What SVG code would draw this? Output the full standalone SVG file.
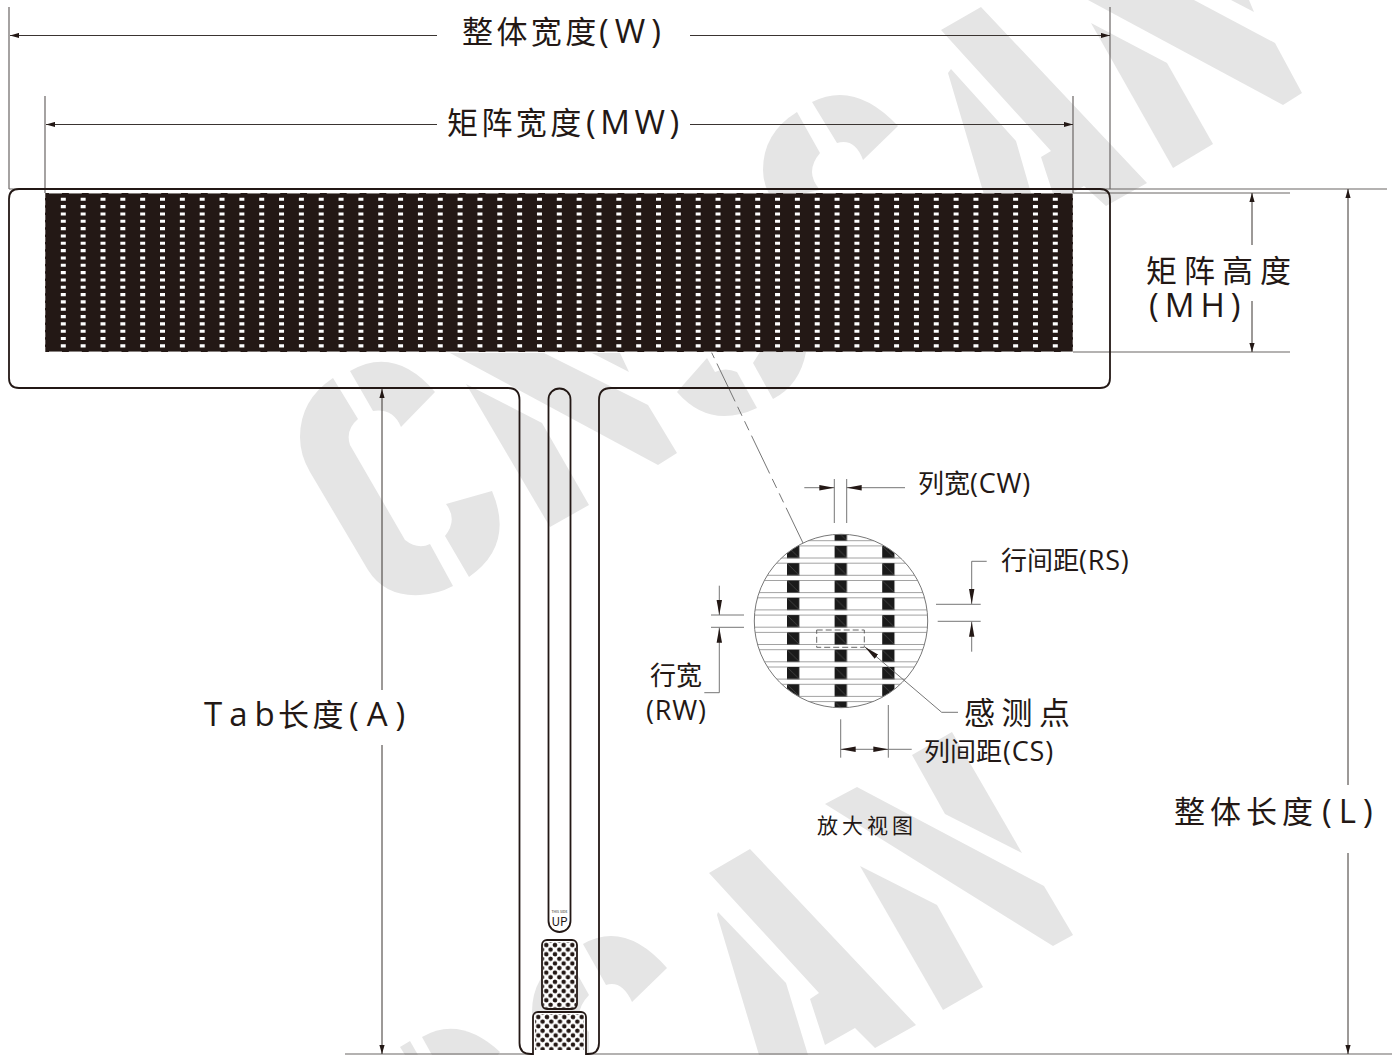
<svg xmlns="http://www.w3.org/2000/svg" width="1392" height="1055" viewBox="0 0 1392 1055">
<style>
text{font-family:"Noto Sans CJK SC","Noto Sans",sans-serif;fill:#231815}
.big{font-size:31px}
.bl{font-family:"Open Sans","Noto Sans",sans-serif;font-size:33px}
.mid{font-size:26px}
.ml{font-family:"Open Sans","Noto Sans",sans-serif;font-size:27px;letter-spacing:.8px}
.wm{fill:#e5e5e5;stroke:none}
.out{fill:none;stroke:#231815;stroke-width:1.8}
.dim{fill:none;stroke:#3a3431;stroke-width:1}
.ext{fill:none;stroke:#6b6665;stroke-width:1.2}
.fine{fill:none;stroke:#666;stroke-width:.9}
.row{fill:none;stroke:#8a8a8a;stroke-width:.8}
</style>
<defs>
<marker id="a" markerUnits="userSpaceOnUse" markerWidth="10" markerHeight="6" refX="9" refY="3" orient="auto-start-reverse"><path d="M0 .4L9 3L0 5.600z" fill="#231815"/></marker>
<marker id="b" markerUnits="userSpaceOnUse" markerWidth="16" markerHeight="7" refX="15" refY="3.500" orient="auto-start-reverse"><path d="M0 .8L15 3.500L0 6.200z" fill="#231815"/></marker>
<pattern id="dots" patternUnits="userSpaceOnUse" x="546.300" y="945" width="8.670" height="9.200"><circle cx="0" cy="0" r="2.300" fill="#231815"/><circle cx="8.670" cy="0" r="2.300" fill="#231815"/><circle cx="0" cy="9.200" r="2.300" fill="#231815"/><circle cx="8.670" cy="9.200" r="2.300" fill="#231815"/><circle cx="4.330" cy="4.600" r="2.300" fill="#231815"/></pattern>
<pattern id="dots2" patternUnits="userSpaceOnUse" x="538.300" y="1017" width="8.670" height="9.200"><circle cx="0" cy="0" r="2.300" fill="#231815"/><circle cx="8.670" cy="0" r="2.300" fill="#231815"/><circle cx="0" cy="9.200" r="2.300" fill="#231815"/><circle cx="8.670" cy="9.200" r="2.300" fill="#231815"/><circle cx="4.330" cy="4.600" r="2.300" fill="#231815"/></pattern>
<pattern id="blk" patternUnits="userSpaceOnUse" x="787" y="528.600" width="47.600" height="17.300"><rect width="12.300" height="12.100" fill="#1a1a1a"/><path d="M0 0L12.300 12.100" stroke="#555" stroke-width=".6"/></pattern>
<clipPath id="cc"><circle cx="841" cy="621" r="86.700"/></clipPath>
<clipPath id="pad2clip"><rect x="531" y="1010" width="57" height="45"/></clipPath>
</defs>

<g id="watermark">
<path class="wm" d="M333 378Q300 400 300 437Q300 455 310 472L368 570Q385 597 420 595Q438 594 453 586L430 544Q418 550 405 540L350 445Q345 430 358 419z"/>
<path class="wm" d="M350 371Q395 345 435 392L401 427Q393 408 373 411z"/>
<path class="wm" d="M446 504L492 491Q515 545 469 577L445 536Q458 520 446 504z"/>
<path class="wm" d="M466 384L542 423L589 505L550 527z"/>
<path class="wm" d="M450 353L544 353L648 405L677 453L658 465z"/>
<path class="wm" d="M592 353L629 372L620 353z"/>
<path class="wm" d="M707 358L677 392Q710 430 757 408L737 372Q725 367 715 372z"/>
<path class="wm" d="M753 363L773 399Q800 385 806 352L760 352z"/>
<path class="wm" d="M797 112Q763 133 763 170Q763 186 773 200L820 190Q804 172 820 153z"/>
<path class="wm" d="M812 102Q855 80 898 126L863 160Q855 138 837 143z"/>
<path class="wm" d="M981 7L1147 183L1106 206L1084 186L1056 203L1041 157L1051 151L941 30z"/>
<path class="wm" d="M951 69L1016 141L1033 200L1040 215L990 215L948 73z"/>
<path class="wm" d="M1091 23L1167 63L1213 144L1173 168z"/>
<path class="wm" d="M1088 0L1194 0L1275 43L1302 93L1283 105z"/>
<path class="wm" d="M1231 0L1254 12L1249 0z"/>
<path class="wm" d="M750 849L709 873L819 993L810 999L825 1045L855 1028L875 1048L916 1025z"/>
<path class="wm" d="M718 912L786 983L808 1055L759 1055L717 915z"/>
<path class="wm" d="M860 866L937 905L983 987L943 1010z"/>
<path class="wm" d="M857 787L1044 886L1073 935L1053 946L825 804z"/>
<path class="wm" d="M952 732L912 755L945 814L1022 853z"/>
<path class="wm" d="M583 944Q625 920 667 968L632 1002Q622 980 606 985z"/>
<path class="wm" d="M566 954Q532 975 532 1012Q532 1028 542 1055L589 1055L589 1032Q570 1015 589 995z"/>
<path class="wm" d="M422 1037Q460 1015 500 1052L498 1055L432 1055z"/>
<path class="wm" d="M400 1047L410 1041L418 1055L405 1055z"/>
</g>

<g id="detail-circle">
<circle cx="841" cy="621" r="86.700" fill="#fff"/>
<g clip-path="url(#cc)">
<path class="row" d="M750 540.700H932M750 545.900H932M750 558H932M750 563.200H932M750 575.300H932M750 580.500H932M750 592.600H932M750 597.800H932M750 609.900H932M750 615.100H932M750 627.200H932M750 632.400H932M750 644.500H932M750 649.700H932M750 661.800H932M750 667H932M750 679.100H932M750 684.300H932M750 696.400H932M750 701.600H932"/>
<rect x="787" y="534" width="108.500" height="174" fill="url(#blk)"/>
</g>
<circle cx="841" cy="621" r="86.700" fill="none" stroke="#777" stroke-width="1"/>
<rect x="816.700" y="630" width="47.600" height="17.300" fill="none" stroke="#555" stroke-width=".9" stroke-dasharray="6 3"/>
</g>

<g id="connectors">
<path class="ext" d="M9 7V189M1110 7V189M45 96V193M1073 96V193"/>
<path class="ext" d="M9 189H1387M1073 193H1290M1073 352H1290M345 1054H1392"/>
<path class="dim" marker-start="url(#a)" d="M10 35.500H437"/>
<path class="dim" marker-end="url(#a)" d="M690 35.500H1110"/>
<path class="dim" marker-start="url(#a)" d="M46 124.500H437"/>
<path class="dim" marker-end="url(#a)" d="M690 124.500H1073"/>
<path class="dim" marker-start="url(#a)" d="M1252 193V245"/>
<path class="dim" marker-end="url(#a)" d="M1252 301V352"/>
<path class="dim" marker-start="url(#a)" d="M1348 189V785"/>
<path class="dim" marker-end="url(#a)" d="M1348 853V1054"/>
<path class="dim" marker-start="url(#a)" d="M382 389V690"/>
<path class="dim" marker-end="url(#a)" d="M382 745V1054"/>
<path class="fine" stroke-dasharray="42 6 10 6 10 6" stroke-dashoffset="68" d="M711.700 352.700L803 543"/>
<path class="fine" d="M834.300 479V523M846.700 479V523M936 604.300H980.700M937.700 621.300H980.700M711 615H744M711 627.300H744M840.700 719.300V757.700M888.300 705V757.700M888.300 749.300H911.700"/>
<path class="fine" marker-end="url(#b)" d="M804.300 487.700H834.300"/>
<path class="fine" marker-end="url(#b)" d="M905 487.700H846.700"/>
<path class="fine" marker-end="url(#b)" d="M986.700 561.300H971.700V604"/>
<path class="fine" marker-end="url(#b)" d="M971.700 651.700V621.700"/>
<path class="fine" marker-end="url(#b)" d="M719.300 585.700V615"/>
<path class="fine" marker-end="url(#b)" d="M704.300 692.700H719.300V627.700"/>
<path class="fine" marker-start="url(#b)" marker-end="url(#b)" d="M840.700 749.300H888.300"/>
<path class="fine" marker-end="url(#b)" d="M958 712.300H941.700L865 647"/>
</g>

<g id="sensor-outline">
<path class="out" d="M519.500 1043V400Q519.500 388 508 388H19Q9 388 9 378V199Q9 189 19 189H1100Q1110 189 1110 199V378Q1110 388 1100 388H611Q599 388 599 400V1043Q599 1054 588 1054H531Q519.500 1054 519.500 1043z"/>
<path class="out" d="M548.500 399.500A11 11 0 0 1 570.500 399.500V921A11 11 0 0 1 548.500 921z"/>
</g>

<g id="matrix">
<rect x="45" y="193" width="1028" height="159" fill="#231815"/>
<path fill="none" stroke="#fff" stroke-width="3.100" stroke-dasharray="5 14.840" d="M60.800 199.300H1060M60.800 206.630H1060M60.800 213.960H1060M60.800 221.290H1060M60.800 228.620H1060M60.800 235.950H1060M60.800 243.280H1060M60.800 250.610H1060M60.800 257.940H1060M60.800 265.270H1060M60.800 272.600H1060M60.800 279.930H1060M60.800 287.260H1060M60.800 294.590H1060M60.800 301.920H1060M60.800 309.250H1060M60.800 316.580H1060M60.800 323.910H1060M60.800 331.240H1060M60.800 338.570H1060M60.800 345.900H1060"/>
<path d="M49 193.500H1073M49 351.500H1073" stroke="#fff" stroke-width="1" stroke-dasharray="13 6.840" opacity=".45" fill="none"/>
<path d="M45.500 193V352M1072.500 193V352" stroke="#fff" stroke-width="1" stroke-dasharray="5 2.330" opacity=".3" fill="none"/>
</g>

<g id="tail-pads">
<rect x="542" y="940" width="35" height="69" rx="5" fill="#fff" stroke="#231815" stroke-width="1.800"/>
<rect x="543" y="942" width="33" height="66" fill="url(#dots)"/>
<g clip-path="url(#pad2clip)"><rect x="533" y="1012" width="53" height="60" rx="5" fill="#fff" stroke="#231815" stroke-width="1.800"/>
<rect x="535" y="1014" width="49" height="36" fill="url(#dots2)"/></g>
<text x="559.500" y="913" text-anchor="middle" style="font-size:3.500px">THIS SIDE</text>
<text x="559.500" y="926" text-anchor="middle" style="font-size:12px">UP</text>
</g>

<g id="labels">
<text class="big" y="43" letter-spacing="3.400"><tspan x="462">整体宽度</tspan><tspan class="bl" x="599" letter-spacing="6">(W)</tspan></text>
<text class="big" y="134" letter-spacing="3.400"><tspan x="447">矩阵宽度</tspan><tspan class="bl" x="586" letter-spacing="4.500">(MW)</tspan></text>
<text class="big" y="282" letter-spacing="7"><tspan x="1146">矩阵高度</tspan></text>
<text class="big bl" y="317" letter-spacing="6"><tspan x="1149">(MH)</tspan></text>
<text class="big" y="726"><tspan class="bl" x="204" letter-spacing="7">Tab</tspan><tspan x="278" letter-spacing="3.400">长度</tspan><tspan class="bl" x="349" letter-spacing="8">(A)</tspan></text>
<text class="big" y="823"><tspan x="1174" letter-spacing="5">整体长度</tspan><tspan class="bl" x="1322" letter-spacing="7">(L)</tspan></text>
<text class="big" x="964" y="724" letter-spacing="6.500">感测点</text>
<text style="font-size:21px;letter-spacing:4px" x="817" y="833">放大视图</text>
<text class="mid" y="493"><tspan x="918">列宽</tspan><tspan class="ml" x="970">(CW)</tspan></text>
<text class="mid" y="570"><tspan x="1001">行间距</tspan><tspan class="ml" x="1079">(RS)</tspan></text>
<text class="mid" y="761"><tspan x="924">列间距</tspan><tspan class="ml" x="1003">(CS)</tspan></text>
<text class="mid" x="650" y="685">行宽</text>
<text class="ml" x="646" y="720">(RW)</text>
</g>
</svg>
